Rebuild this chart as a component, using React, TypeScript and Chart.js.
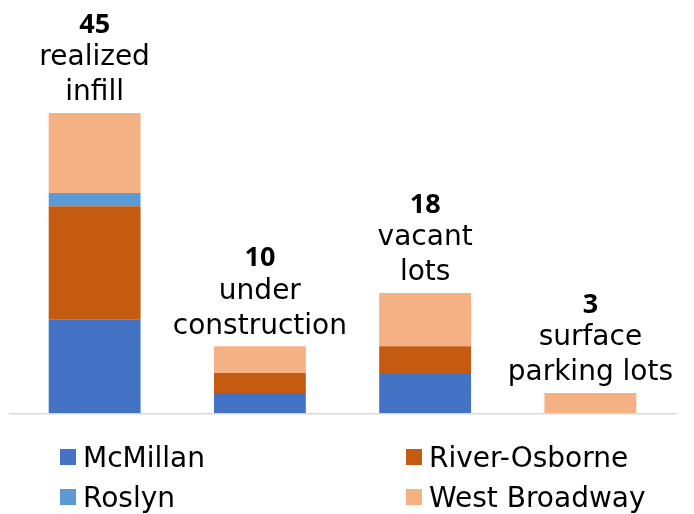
import React, { useEffect, useRef } from "react";
import { Chart, registerables } from "chart.js";

Chart.register(...registerables);

const categories = ["realized infill", "under construction", "vacant lots", "surface parking lots"];
const labelLines = [["realized", "infill"], ["under", "construction"], ["vacant", "lots"], ["surface", "parking lots"]];
const totalLabels = ["45", "10", "18", "3"];

const mcMillan = [14, 3, 6, 0];
const riverOsborne = [17, 3, 4, 0];
const roslyn = [2, 0, 0, 0];
const westBroadway = [12, 4, 8, 3];

const seriesNames = ["McMillan", "River-Osborne", "Roslyn", "West Broadway"];
const seriesColors = ["#4472C4", "#C55A11", "#5B9BD5", "#F4B183"];

const TEXT_FONT = "'DejaVu Sans', sans-serif";
const NUM_FONT = "'Open Sans', sans-serif";

const labelsPlugin = {
  id: "topLabels",
  afterDatasetsDraw(chart: any) {
    const ctx = chart.ctx;
    const yScale = chart.scales.y;
    const meta0 = chart.getDatasetMeta(0);
    const { left, right, bottom } = chart.chartArea;
    // baseline
    ctx.save();
    ctx.strokeStyle = "#D9D9D9";
    ctx.lineWidth = 1.5;
    ctx.beginPath();
    ctx.moveTo(left - 3, bottom + 0.75);
    ctx.lineTo(right + 4, bottom + 0.75);
    ctx.stroke();

    ctx.textAlign = "center";
    ctx.textBaseline = "middle";
    ctx.fillStyle = "#000";
    categories.forEach((_, i) => {
      let total = 0;
      chart.data.datasets.forEach((ds: any) => (total += ds.data[i]));
      const x = meta0.data[i].x;
      const top = yScale.getPixelForValue(total);
      const lines = labelLines[i];
      const lastY = top - 20;
      const spacing = 35;
      ctx.font = `28px ${TEXT_FONT}`;
      lines.forEach((ln, k) => {
        ctx.fillText(ln, x, lastY - (lines.length - 1 - k) * spacing);
      });
      ctx.font = `bold 27px ${NUM_FONT}`;
      ctx.fillText(totalLabels[i], x, lastY - lines.length * spacing + 2);
    });

    // legend
    const cols = [60, 406];
    const rows = [457, 497];
    ctx.textAlign = "left";
    ctx.textBaseline = "alphabetic";
    ctx.font = `28px ${TEXT_FONT}`;
    seriesNames.forEach((name, k) => {
      const cx = cols[k % 2];
      const cy = rows[Math.floor(k / 2)];
      ctx.fillStyle = seriesColors[k];
      ctx.fillRect(cx, cy - 8, 16, 16);
      ctx.fillStyle = "#000";
      ctx.fillText(name, cx + 23, cy + 10);
    });
    ctx.restore();
  },
};

export default function App() {
  const ref = useRef<HTMLCanvasElement | null>(null);
  useEffect(() => {
    document.body.style.margin = "0";
    const chart = new Chart(ref.current!, {
      type: "bar",
      data: {
        labels: categories,
        datasets: seriesNames.map((name, k) => ({
          label: name,
          data: [mcMillan, riverOsborne, roslyn, westBroadway][k],
          backgroundColor: seriesColors[k],
          borderWidth: 0,
          categoryPercentage: 1,
          barPercentage: 0.556,
        })),
      },
      options: {
        animation: false,
        responsive: false,
        layout: { padding: { left: 12, right: 21, top: 113, bottom: 101 } },
        plugins: { legend: { display: false }, tooltip: { enabled: false } },
        scales: {
          x: { stacked: true, display: false },
          y: { stacked: true, display: false, min: 0, max: 45 },
        },
      },
      plugins: [labelsPlugin],
    });
    return () => chart.destroy();
  }, []);
  return (
    <div style={{ width: 694, height: 514 }}>
      <canvas ref={ref} width={694} height={514} />
    </div>
  );
}
